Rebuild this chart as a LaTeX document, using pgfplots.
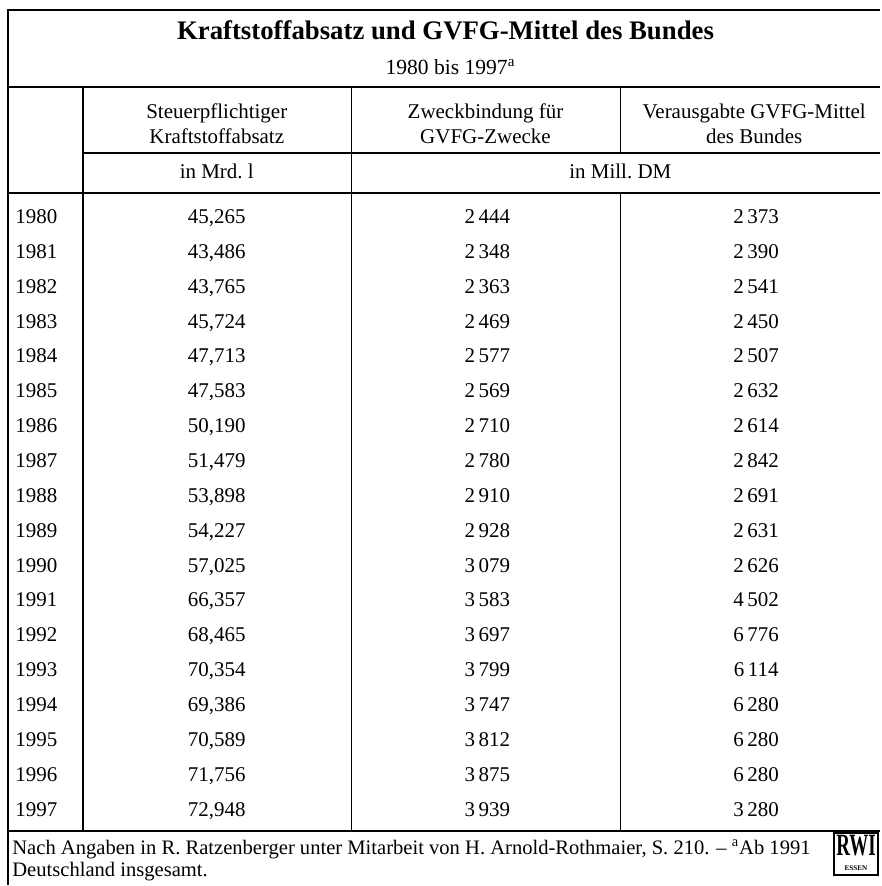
\documentclass[border=0pt]{standalone}
\usepackage{fontspec}
\setmainfont{Liberation Serif}
\usepackage{graphicx}
\usepackage{pgfplots}
\pgfplotsset{compat=1.18}
\usepackage{pgfplotstable}

\pgfplotstableread{
year v1 v2 v3
1980 45.265 2444 2373
1981 43.486 2348 2390
1982 43.765 2363 2541
1983 45.724 2469 2450
1984 47.713 2577 2507
1985 47.583 2569 2632
1986 50.190 2710 2614
1987 51.479 2780 2842
1988 53.898 2910 2691
1989 54.227 2928 2631
1990 57.025 3079 2626
1991 66.357 3583 4502
1992 68.465 3697 6776
1993 70.354 3799 6114
1994 69.386 3747 6280
1995 70.589 3812 6280
1996 71.756 3875 6280
1997 72.948 3939 3280
}\datatable

\newcommand{\bodyfont}{\fontsize{10.5}{12.5}\selectfont}

\pgfplotsset{
  cell/.style={only marks, mark=*, mark size=0pt, mark options={draw=none,fill=none},
    point meta=explicit,
    every node near coord/.append style={anchor=base, font=\bodyfont, inner sep=0pt, text=black}},
}

\begin{document}
\begin{tikzpicture}
\begin{axis}[scale only axis, width=440.5pt, height=443pt,
  xmin=0, xmax=881, ymin=0, ymax=886, y dir=reverse,
  hide axis, clip=false]

\path (axis cs:0,0) rectangle (axis cs:881,886);

% rules
\draw[line width=1pt] (axis cs:8,886) -- (axis cs:8,10) -- (axis cs:881,10);
\draw[line width=0.75pt] (axis cs:8,87) -- (axis cs:881,87);
\draw[line width=0.75pt] (axis cs:83,87) -- (axis cs:83,832);
\draw[line width=0.75pt] (axis cs:352,87) -- (axis cs:352,832);
\draw[line width=0.75pt] (axis cs:621,87) -- (axis cs:621,153);
\draw[line width=0.75pt] (axis cs:621,193) -- (axis cs:621,832);
\draw[line width=0.75pt] (axis cs:83,153) -- (axis cs:881,153);
\draw[line width=0.75pt] (axis cs:8,193) -- (axis cs:881,193);
\draw[line width=0.75pt] (axis cs:8,832) -- (axis cs:881,832);

% titles
\node[anchor=base, font=\fontsize{13.4}{15}\selectfont\bfseries] at (axis cs:446,40) {Kraftstoffabsatz und GVFG-Mittel des Bundes};
\node[anchor=base, font=\fontsize{10.8}{12}\selectfont] at (axis cs:451,75) {1980 bis 1997\textsuperscript{a}};

% header
\node[align=center, font=\bodyfont] at (axis cs:217,124) {Steuerpflichtiger\\Kraftstoffabsatz};
\node[align=center, font=\bodyfont] at (axis cs:486,124) {Zweckbindung für\\GVFG-Zwecke};
\node[align=center, font=\bodyfont] at (axis cs:755,124) {Verausgabte GVFG-Mittel\\des Bundes};
\node[anchor=base, font=\bodyfont] at (axis cs:217,179) {in Mrd.~l};
\node[anchor=base, font=\bodyfont] at (axis cs:621,179) {in Mill.~DM};

% data
\addplot[cell, nodes near coords={\pgfmathprintnumber[fixed,precision=0,1000 sep={},assume math mode=true]{\pgfplotspointmeta}},
  every node near coord/.append style={anchor=base west}]
  table[x expr=15, y expr={223.7+34.9*(\thisrow{year}-1980)}, meta=year] {\datatable};
\addplot[cell, nodes near coords={\pgfmathprintnumber[fixed,fixed zerofill,precision=3,use comma,1000 sep={},assume math mode=true]{\pgfplotspointmeta}}]
  table[x expr=217, y expr={223.7+34.9*(\thisrow{year}-1980)}, meta=v1] {\datatable};
\addplot[cell, nodes near coords={\pgfmathprintnumber[fixed,precision=0,1000 sep={\,},assume math mode=true]{\pgfplotspointmeta}}]
  table[x expr=488, y expr={223.7+34.9*(\thisrow{year}-1980)}, meta=v2] {\datatable};
\addplot[cell, nodes near coords={\pgfmathprintnumber[fixed,precision=0,1000 sep={\,},assume math mode=true]{\pgfplotspointmeta}}]
  table[x expr=757, y expr={223.7+34.9*(\thisrow{year}-1980)}, meta=v3] {\datatable};

% footer
\node[anchor=base west, font=\fontsize{10.3}{12}\selectfont, inner sep=0pt] at (axis cs:12,855) {Nach Angaben in R. Ratzenberger unter Mitarbeit von H. Arnold-Rothmaier, S.~210. -- \textsuperscript{a}Ab 1991};
\node[anchor=base west, font=\fontsize{10.3}{12}\selectfont, inner sep=0pt] at (axis cs:12,877) {Deutschland insgesamt.};

% logo
\draw[line width=0.9pt] (axis cs:835,834) rectangle (axis cs:879,876);
\node[anchor=base, inner sep=0pt, font=\fontsize{10}{10}\selectfont\bfseries] at (axis cs:857,856) {\scalebox{0.95}[1.55]{RWI}};
\node[anchor=base, inner sep=0pt, font=\fontsize{3.6}{4}\selectfont\bfseries] at (axis cs:857,871) {ESSEN};
\end{axis}
\end{tikzpicture}
\end{document}
